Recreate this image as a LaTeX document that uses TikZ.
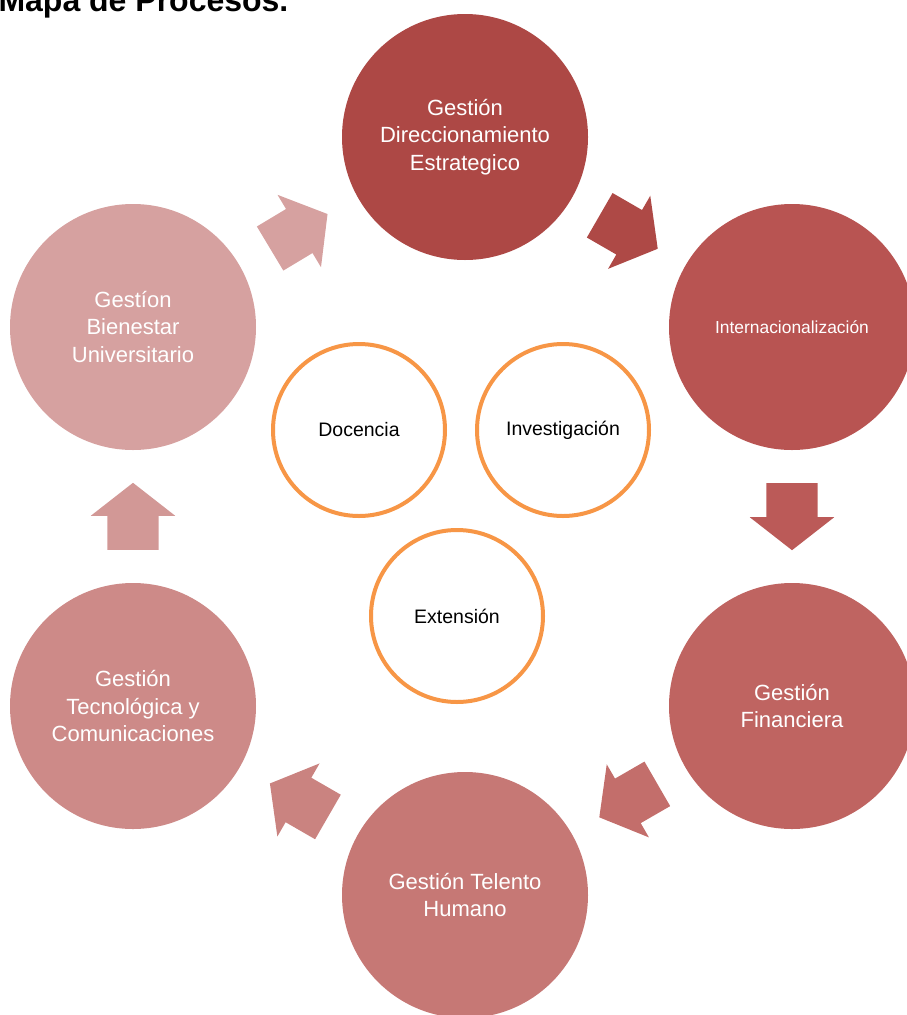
\documentclass[tikz,border=0pt]{standalone}
\usepackage{fontspec}
\setmainfont{Liberation Sans}
\usetikzlibrary{shapes.arrows, calc}
\definecolor{dircol}{HTML}{AD4845}
\definecolor{intcol}{HTML}{B85452}
\definecolor{fincol}{HTML}{BF6461}
\definecolor{talcol}{HTML}{C67875}
\definecolor{teccol}{HTML}{CD8A88}
\definecolor{biecol}{HTML}{D6A1A0}
\definecolor{naranja}{HTML}{F79646}
\tikzstyle{proceso} = [circle, minimum size=246pt, inner sep=0pt, text=white, align=center, font=\fontsize{22}{27.5}\selectfont]
\tikzstyle{misional} = [circle, minimum size=172pt, inner sep=0pt, draw=naranja, line width=4pt, fill=white, font=\fontsize{19.5}{23}\selectfont]
\tikzstyle{flecha} = [single arrow, anchor=tail, minimum height=67pt, inner xsep=0pt, inner ysep=25.5pt, single arrow head extend=16.5pt, single arrow tip angle=104]

\begin{document}
\begin{tikzpicture}[x=1pt, y=-1pt]
\useasboundingbox (0,0) rectangle (906,1015);

\node (titulo) [anchor=base west, font=\bfseries\fontsize{32}{38}\selectfont] at (-5,11)
	{Mapa de Procesos.};

\node (direccion) [proceso, fill=dircol] at (465,137)
	{Gestión\\Direccionamiento\\Estrategico};
\node (inter) [proceso, fill=intcol, font=\fontsize{17.4}{21}\selectfont] at (792,327)
	{Internacionalización};
\node (financiera) [proceso, fill=fincol] at (792,706)
	{Gestión\\Financiera};
\node (talento) [proceso, fill=talcol] at (465,895)
	{Gestión Telento\\Humano};
\node (tecnologia) [proceso, fill=teccol] at (133,706)
	{Gestión\\Tecnológica y\\Comunicaciones};
\node (bienestar) [proceso, fill=biecol] at (133,327)
	{Gestíon\\Bienestar\\Universitario};

\node (docencia) [misional] at (359,430) {Docencia};
\node (investigacion) [misional] at (563,430) {Investigación};
\node (extension) [misional] at (457,616) {Extensión};

% flechas entre procesos (cola a 33.5pt antes del punto medio)
\node (f1) [flecha, fill=biecol, rotate=31] at ($(bienestar)!0.5!(direccion)!33.5pt!(bienestar)$) {};
\node (f2) [flecha, fill=dircol!90!intcol, rotate=-30] at ($(direccion)!0.5!(inter)!33.5pt!(direccion)$) {};
\node (f3) [flecha, fill=intcol!60!fincol, rotate=-90] at ($(inter)!0.5!(financiera)!33.5pt!(inter)$) {};
\node (f4) [flecha, fill=fincol!50!talcol, rotate=210] at ($(financiera)!0.5!(talento)!33.5pt!(financiera)$) {};
\node (f5) [flecha, fill=talcol!40!teccol, rotate=150] at ($(talento)!0.5!(tecnologia)!33.5pt!(talento)$) {};
\node (f6) [flecha, fill=teccol!40!biecol, rotate=90] at ($(tecnologia)!0.5!(bienestar)!33.5pt!(tecnologia)$) {};

\end{tikzpicture}
\end{document}
